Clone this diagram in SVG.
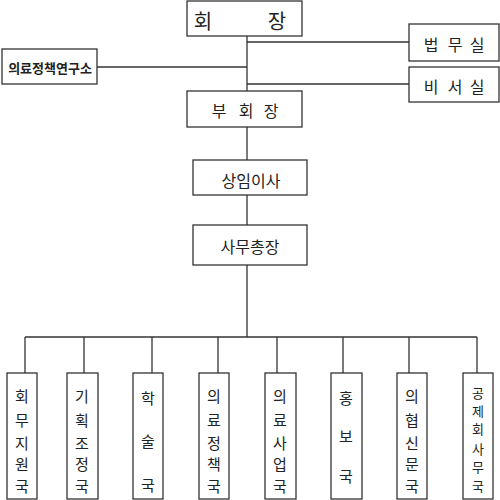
<svg xmlns="http://www.w3.org/2000/svg" width="500" height="500" viewBox="0 0 500 500">
<style>
rect{fill:#fff;stroke:#333;stroke-width:1.3}
text{font-family:"Noto Sans CJK KR","Noto Sans",sans-serif;fill:#222;text-anchor:middle;dominant-baseline:central}
.c line{stroke:#333;stroke-width:1.3}
.v{font-size:15px}
.s{font-size:13px}
.m{font-size:16px}
</style>
<rect x="0" y="0" width="500" height="500" style="fill:#fff;stroke:none"/>
<g class="c" id="connectors">
<line x1="247" y1="36" x2="247" y2="91"/>
<line x1="247" y1="42" x2="409" y2="42"/>
<line x1="247" y1="84" x2="409" y2="84"/>
<line x1="97" y1="67" x2="247" y2="67"/>
<line x1="247" y1="127" x2="247" y2="160"/>
<line x1="247" y1="195" x2="247" y2="225"/>
<line x1="247" y1="265" x2="247" y2="337"/>
<line x1="25" y1="337" x2="477" y2="337"/>
<line x1="25" y1="337" x2="25" y2="373"/>
<line x1="84" y1="337" x2="84" y2="373"/>
<line x1="152" y1="337" x2="152" y2="373"/>
<line x1="218" y1="337" x2="218" y2="373"/>
<line x1="277" y1="337" x2="277" y2="373"/>
<line x1="343" y1="337" x2="343" y2="373"/>
<line x1="409" y1="337" x2="409" y2="373"/>
<line x1="477" y1="337" x2="477" y2="373"/>
</g>
<g id="n-chair"><rect x="187" y="1" width="115" height="35"/><text x="203" y="20" style="font-size:20px">회</text><text x="277" y="20" style="font-size:20px">장</text></g>
<g id="n-legal"><rect x="409" y="24" width="90" height="37"/><g class="m"><text x="431" y="44">법</text><text x="455" y="44">무</text><text x="477" y="44">실</text></g></g>
<g id="n-secretary"><rect x="409" y="67" width="90" height="35"/><g class="m"><text x="431" y="86">비</text><text x="455" y="86">서</text><text x="477" y="86">실</text></g></g>
<g id="n-institute"><rect x="2" y="49" width="95" height="35"/><text x="50" y="67" style="font-size:13px;font-weight:bold">의료정책연구소</text></g>
<g id="n-vice"><rect x="187" y="91" width="115" height="36"/><g class="m"><text x="219" y="110">부</text><text x="246" y="110">회</text><text x="271" y="110">장</text></g></g>
<g id="n-director"><rect x="193" y="160" width="114" height="35"/><text x="251" y="180" class="m">상임이사</text></g>
<g id="n-secgen"><rect x="193" y="225" width="114" height="40"/><text x="250" y="246" class="m">사무총장</text></g>
<g id="n-d1"><rect x="7" y="373" width="30" height="126"/><g class="v"><text x="22" y="395">회</text><text x="22" y="419">무</text><text x="22" y="442">지</text><text x="22" y="463">원</text><text x="22" y="485">국</text></g></g>
<g id="n-d2"><rect x="67" y="373" width="31" height="126"/><g class="v"><text x="82" y="395">기</text><text x="82" y="419">획</text><text x="82" y="442">조</text><text x="82" y="463">정</text><text x="82" y="485">국</text></g></g>
<g id="n-d3"><rect x="133" y="373" width="30" height="126"/><g class="v"><text x="148" y="397">학</text><text x="148" y="440">술</text><text x="148" y="484">국</text></g></g>
<g id="n-d4"><rect x="199" y="373" width="30" height="126"/><g class="v"><text x="214" y="395">의</text><text x="214" y="419">료</text><text x="214" y="442">정</text><text x="214" y="463">책</text><text x="214" y="485">국</text></g></g>
<g id="n-d5"><rect x="265" y="373" width="31" height="126"/><g class="v"><text x="280" y="395">의</text><text x="280" y="419">료</text><text x="280" y="442">사</text><text x="280" y="463">업</text><text x="280" y="485">국</text></g></g>
<g id="n-d6"><rect x="331" y="373" width="31" height="126"/><g class="v"><text x="346" y="397">홍</text><text x="346" y="435">보</text><text x="346" y="475">국</text></g></g>
<g id="n-d7"><rect x="397" y="373" width="30" height="126"/><g class="v"><text x="412" y="395">의</text><text x="412" y="419">협</text><text x="412" y="442">신</text><text x="412" y="463">문</text><text x="412" y="485">국</text></g></g>
<g id="n-d8"><rect x="463" y="373" width="30" height="126"/><g class="s"><text x="478" y="392">공</text><text x="478" y="410">제</text><text x="478" y="428">회</text><text x="478" y="448">사</text><text x="478" y="466">무</text><text x="478" y="485">국</text></g></g>
</svg>
